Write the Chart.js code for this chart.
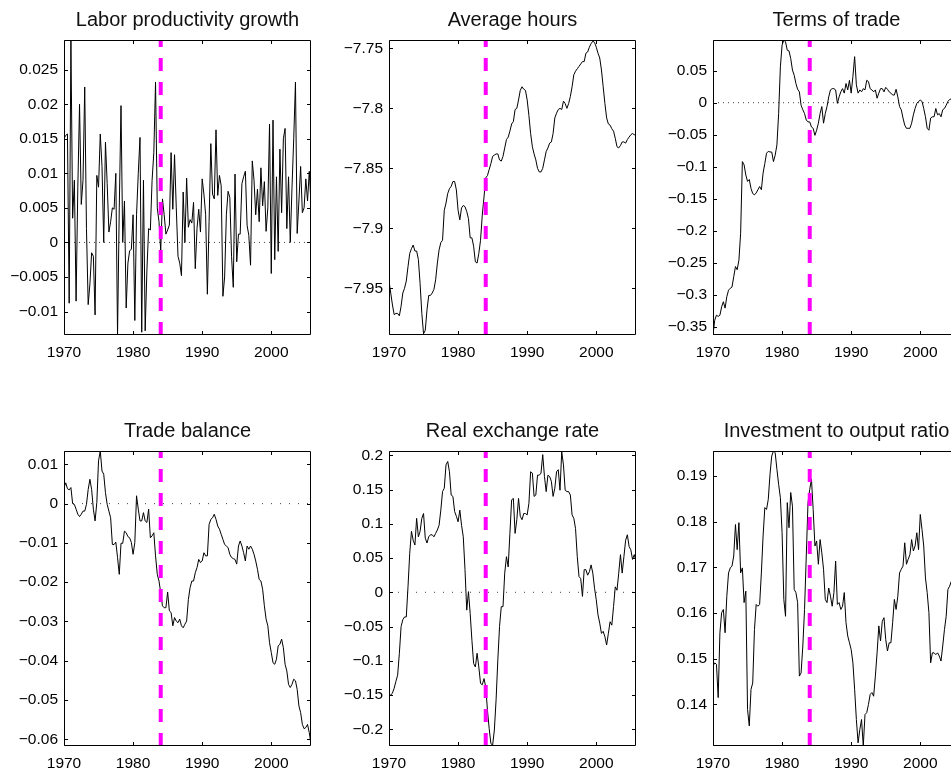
<!DOCTYPE html>
<html>
<head>
<meta charset="utf-8">
<script src="https://cdn.jsdelivr.net/npm/chart.js@4.4.1/dist/chart.umd.min.js"></script>
<style>
html,body{margin:0;padding:0;background:#fff;width:951px;height:771px;overflow:hidden;}
.pane{position:absolute;}
</style>
</head>
<body>
<canvas id="c1" class="pane" width="325" height="411" style="left:0px;top:0px"></canvas>
<canvas id="c2" class="pane" width="325" height="411" style="left:325px;top:0px"></canvas>
<canvas id="c3" class="pane" width="325" height="411" style="left:649px;top:0px"></canvas>
<canvas id="c4" class="pane" width="325" height="411" style="left:0px;top:411px"></canvas>
<canvas id="c5" class="pane" width="325" height="411" style="left:325px;top:411px"></canvas>
<canvas id="c6" class="pane" width="325" height="411" style="left:649px;top:411px"></canvas>
<script>
// ---------------- DATA ----------------
const startYear = 1970;           // first quarter 1970Q1
const nQuarters = 144;            // 1970Q1 .. 2005Q4
const breakYear = 1984;
const xTicks = [1970, 1980, 1990, 2000];
const xMin = 1970, xMax = 2005.75;

const titles = ["Labor productivity growth", "Average hours", "Terms of trade",
                "Trade balance", "Real exchange rate", "Investment to output ratio"];

const laborProductivity = [
 0.015,0.0155,0.0157,-0.0088,0.0293,0.0035,0.009,-0.0085,0.008,0.020,0.0055,0.009,
 0.0225,0.002,-0.009,-0.006,-0.0015,-0.002,-0.0105,0.0097,0.008,0.0157,0.011,0.0,
 0.0145,0.0085,0.0015,0.003,0.005,0.0048,0.010,-0.0134,0.005,0.0198,0.0,0.006,
 -0.0095,-0.003,-0.0012,-0.001,0.004,-0.0113,0.004,0.01,0.0152,-0.013,0.009,-0.0128,
 -0.004,0.002,0.0018,0.009,0.013,0.0232,0.005,0.003,-0.0012,0.0063,0.004,0.0012,
 0.0018,0.0025,0.013,0.0048,0.0127,0.005,-0.002,-0.003,-0.0048,0.0073,0.0,0.0093,
 0.0022,0.0033,0.0028,0.0058,-0.0038,0.002,0.0048,0.0015,0.0092,0.007,0.004,-0.0075,
 0.003,0.0143,0.007,0.0063,0.0163,0.0068,0.0097,0.0082,-0.0078,-0.005,0.004,0.0074,
 0.0065,-0.002,-0.0065,0.0099,-0.0028,0.0012,0.0012,0.0085,0.0095,0.0103,0.0025,0.001,
 -0.0033,0.0118,0.009,0.004,0.0077,0.003,0.0108,0.0053,0.0088,0.0016,0.005,0.0171,
 -0.0045,0.0177,-0.0025,0.0095,-0.0013,0.0135,0.0043,0.015,0.0165,0.002,0.0095,0.0,
 0.008,0.015,0.0232,0.0013,0.006,0.011,0.0043,0.005,0.0092,0.006,0.0103,0.0055];

const averageHours = [
 -7.944,-7.954,-7.964,-7.972,-7.971,-7.971,-7.973,-7.965,-7.954,-7.95,-7.944,-7.932,
 -7.921,-7.917,-7.914,-7.919,-7.919,-7.926,-7.946,-7.971,-7.988,-7.985,-7.968,-7.956,
 -7.956,-7.954,-7.951,-7.943,-7.929,-7.918,-7.912,-7.91,-7.885,-7.879,-7.871,-7.867,
 -7.865,-7.861,-7.861,-7.868,-7.885,-7.893,-7.883,-7.881,-7.882,-7.886,-7.892,-7.908,
 -7.908,-7.915,-7.928,-7.929,-7.921,-7.91,-7.889,-7.874,-7.858,-7.856,-7.851,-7.846,
 -7.84,-7.839,-7.838,-7.838,-7.843,-7.844,-7.84,-7.833,-7.826,-7.824,-7.819,-7.813,
 -7.811,-7.801,-7.8,-7.793,-7.785,-7.782,-7.784,-7.785,-7.793,-7.806,-7.821,-7.832,
 -7.838,-7.843,-7.85,-7.853,-7.853,-7.85,-7.843,-7.836,-7.833,-7.829,-7.828,-7.821,
 -7.808,-7.804,-7.801,-7.8,-7.801,-7.794,-7.796,-7.8,-7.796,-7.79,-7.782,-7.772,
 -7.769,-7.767,-7.765,-7.763,-7.761,-7.761,-7.754,-7.753,-7.749,-7.746,-7.744,-7.745,
 -7.749,-7.754,-7.758,-7.768,-7.782,-7.796,-7.808,-7.813,-7.814,-7.817,-7.819,-7.825,
 -7.832,-7.833,-7.831,-7.828,-7.828,-7.829,-7.826,-7.824,-7.822,-7.821,-7.822,-7.822];

const termsOfTrade = [
 -0.363,-0.34,-0.332,-0.334,-0.332,-0.319,-0.311,-0.321,-0.303,-0.293,-0.29,-0.288,
 -0.272,-0.256,-0.261,-0.246,-0.204,-0.092,-0.097,-0.113,-0.123,-0.12,-0.134,-0.142,
 -0.144,-0.141,-0.136,-0.131,-0.136,-0.11,-0.095,-0.079,-0.076,-0.077,-0.077,-0.092,
 -0.082,-0.066,-0.017,0.056,0.09,0.098,0.095,0.082,0.081,0.069,0.051,0.043,
 0.03,0.021,0.017,-0.004,-0.011,-0.017,-0.027,-0.03,-0.03,-0.038,-0.04,-0.051,
 -0.043,-0.032,-0.017,-0.006,-0.032,-0.017,-0.006,0.009,0.02,0.022,0.022,0.02,
 -0.001,0.009,0.017,0.022,0.015,0.03,0.02,0.035,0.015,0.041,0.072,0.028,
 0.015,0.02,0.017,0.022,0.02,0.035,0.033,0.022,0.02,0.017,0.02,0.007,
 0.015,0.022,0.022,0.017,0.024,0.021,0.017,0.015,0.012,0.012,0.021,0.009,
 -0.006,-0.011,-0.024,-0.035,-0.04,-0.04,-0.04,-0.032,-0.019,-0.009,-0.001,0.002,
 0.004,0.002,-0.009,-0.022,-0.04,-0.043,-0.024,-0.022,-0.022,-0.009,-0.019,-0.017,
 -0.022,-0.011,-0.009,-0.004,0.002,0.005,0.006,0.01,0.012,0.008,0.015,0.018];

const tradeBalance = [
 0.0041,0.0053,0.0038,0.0035,0.0041,0.0,-0.0002,-0.0014,-0.0027,-0.0033,-0.0027,-0.0019,
 -0.0019,-0.0002,0.0036,0.0062,0.0036,-0.0014,-0.0044,0.0003,0.0109,0.0134,0.0083,0.0075,
 0.0028,-0.0002,-0.0019,-0.0036,-0.0104,-0.0104,-0.0098,-0.0137,-0.018,-0.0101,-0.0101,-0.007,
 -0.0074,-0.0084,-0.0087,-0.0099,-0.0129,-0.0099,0.002,-0.0014,-0.0044,-0.0044,-0.0023,-0.0044,
 -0.0048,-0.0014,-0.0087,-0.0082,-0.0074,-0.0133,-0.018,-0.0197,-0.0227,-0.026,-0.0265,-0.0265,
 -0.0225,-0.0273,-0.0277,-0.0311,-0.029,-0.0299,-0.0303,-0.0294,-0.0311,-0.0316,-0.0307,-0.0299,
 -0.0244,-0.0214,-0.0197,-0.0197,-0.0176,-0.0163,-0.0142,-0.015,-0.0146,-0.0125,-0.0133,-0.0133,
 -0.0053,-0.004,-0.0036,-0.0027,-0.004,-0.0057,-0.0065,-0.0078,-0.0091,-0.0104,-0.0108,-0.0112,
 -0.0129,-0.0137,-0.014,-0.0142,-0.0154,-0.0108,-0.0095,-0.0108,-0.0125,-0.0146,-0.0108,-0.0116,
 -0.0108,-0.0116,-0.0129,-0.0146,-0.0167,-0.0193,-0.0197,-0.0218,-0.026,-0.0294,-0.0311,-0.0354,
 -0.0379,-0.0405,-0.0409,-0.0396,-0.0362,-0.0358,-0.0345,-0.0367,-0.0409,-0.0426,-0.046,-0.0468,
 -0.046,-0.0447,-0.0451,-0.0473,-0.0515,-0.0532,-0.0562,-0.0573,-0.057,-0.0562,-0.0583,-0.0613];

const realExchangeRate = [
 -0.152,-0.15,-0.147,-0.14,-0.13,-0.121,-0.089,-0.05,-0.04,-0.036,-0.036,0.008,
 0.057,0.089,0.076,0.069,0.108,0.081,0.089,0.108,0.115,0.079,0.072,0.081,
 0.084,0.084,0.081,0.086,0.091,0.098,0.12,0.147,0.152,0.186,0.191,0.176,
 0.142,0.14,0.118,0.111,0.103,0.12,0.098,0.081,0.033,-0.026,0.001,-0.031,
 -0.07,-0.104,-0.109,-0.089,-0.109,-0.133,-0.135,-0.126,-0.138,-0.172,-0.199,-0.221,
 -0.223,-0.201,-0.157,-0.099,-0.05,-0.021,-0.021,0.028,0.052,0.037,0.086,0.135,
 0.137,0.086,0.106,0.137,0.111,0.106,0.115,0.115,0.113,0.13,0.176,0.174,
 0.14,0.142,0.171,0.171,0.174,0.201,0.169,0.147,0.171,0.169,0.162,0.14,
 0.152,0.176,0.179,0.149,0.205,0.186,0.149,0.147,0.147,0.142,0.113,0.108,
 0.093,0.052,0.023,0.02,-0.006,0.033,0.033,0.025,0.03,0.04,0.028,0.006,
 -0.011,-0.033,-0.045,-0.06,-0.057,-0.065,-0.077,-0.06,-0.043,-0.048,-0.021,0.008,
 0.003,0.028,0.055,0.028,0.052,0.076,0.084,0.067,0.062,0.048,0.055,0.045];

const investmentRatio = [
 0.1484,0.1491,0.1488,0.1415,0.1557,0.1601,0.1608,0.1557,0.1637,0.1688,0.1699,0.1703,
 0.1725,0.1794,0.1739,0.1798,0.1688,0.1699,0.1623,0.1648,0.1389,0.1353,0.1433,0.1447,
 0.1564,0.1619,0.1615,0.1619,0.1688,0.1769,0.1831,0.1827,0.1849,0.1904,0.1944,0.1955,
 0.1951,0.1915,0.1882,0.1853,0.1776,0.163,0.1593,0.1842,0.1787,0.1864,0.1834,0.1652,
 0.1645,0.1623,0.1462,0.1469,0.1528,0.1608,0.1725,0.1842,0.1871,0.1893,0.1827,0.1747,
 0.1758,0.1707,0.1761,0.1732,0.1696,0.163,0.1623,0.1655,0.1637,0.1615,0.1645,0.1714,
 0.1619,0.1623,0.1608,0.1615,0.1645,0.1579,0.155,0.1535,0.152,0.1491,0.1433,0.1367,
 0.1316,0.1345,0.1367,0.1309,0.1378,0.1382,0.14,0.1422,0.1426,0.1418,0.1462,0.1513,
 0.1572,0.1539,0.1582,0.159,0.1542,0.1517,0.1535,0.1535,0.1579,0.163,0.1608,0.1637,
 0.1688,0.1696,0.1703,0.1754,0.1707,0.1718,0.1728,0.1761,0.1736,0.1747,0.1776,0.1739,
 0.1816,0.1783,0.1747,0.1677,0.1645,0.1601,0.1491,0.1513,0.1513,0.1509,0.1513,0.1506,
 0.1495,0.1528,0.1564,0.1593,0.1652,0.1659,0.167,0.168,0.166,0.169,0.17,0.168];

const yTicks1 = [-0.01,-0.005,0,0.005,0.01,0.015,0.02,0.025];
const yTicks2 = [-7.95,-7.9,-7.85,-7.8,-7.75];
const yTicks3 = [-0.35,-0.3,-0.25,-0.2,-0.15,-0.1,-0.05,0,0.05];
const yTicks4 = [-0.06,-0.05,-0.04,-0.03,-0.02,-0.01,0,0.01];
const yTicks5 = [-0.2,-0.15,-0.1,-0.05,0,0.05,0.1,0.15,0.2];
const yTicks6 = [0.14,0.15,0.16,0.17,0.18,0.19];

const yRange1 = [-0.0134, 0.0293];
const yRange2 = [-7.989, -7.743];
const yRange3 = [-0.363, 0.098];
const yRange4 = [-0.0617, 0.0134];
const yRange5 = [-0.2244, 0.2063];
const yRange6 = [0.1309, 0.1955];

// ---------------- RENDERING ----------------
const FONT = "'Liberation Sans', Arial, Helvetica, sans-serif";
const quarters = [];
for (let i = 0; i < nQuarters; i++) quarters.push(startYear + i / 4);

function fmt(v) {
  const s = String(Number(v.toFixed(5)));
  return v < 0 ? '\u2212' + s.slice(1) : s;
}

const framePlugin = {
  id: 'frame',
  afterDraw(chart) {
    const {ctx, chartArea: a, scales} = chart;
    ctx.save();
    ctx.strokeStyle = '#000';
    ctx.lineWidth = 1;
    const L = Math.round(a.left) + 0.5, R = Math.round(a.right) - 0.5;
    const T = Math.round(a.top) + 0.5, B = Math.round(a.bottom) - 0.5;
    ctx.beginPath();
    ctx.rect(L, T, R - L, B - T);
    const tl = 3.5;
    scales.x.ticks.forEach(t => {
      const px = Math.round(scales.x.getPixelForValue(t.value)) + 0.5;
      ctx.moveTo(px, B); ctx.lineTo(px, B - tl);
      ctx.moveTo(px, T); ctx.lineTo(px, T + tl);
    });
    scales.y.ticks.forEach(t => {
      const py = Math.round(scales.y.getPixelForValue(t.value)) + 0.5;
      ctx.moveTo(L, py); ctx.lineTo(L + tl, py);
      ctx.moveTo(R, py); ctx.lineTo(R - tl, py);
    });
    ctx.stroke();
    ctx.restore();
  }
};

function makePanel(id, title, values, yRange, yTicks, zeroLine, zeroDash) {
  const datasets = [
    {data: [{x: breakYear, y: yRange[0]}, {x: breakYear, y: yRange[1]}],
     borderColor: '#ff00ff', borderWidth: 4, borderDash: [13, 11], borderCapStyle: 'butt',
     pointRadius: 0, order: 0},
    {data: values.map((v, i) => ({x: quarters[i], y: v})),
     borderColor: '#000', borderWidth: 1, pointRadius: 0, tension: 0, order: 1}
  ];
  if (zeroLine) {
    datasets.push({data: [{x: xMin, y: 0}, {x: xMax, y: 0}],
      borderColor: '#444', borderWidth: 1, borderDash: zeroDash, pointRadius: 0, order: 2});
  }
  new Chart(document.getElementById(id), {
    type: 'line',
    data: {datasets},
    options: {
      responsive: false, animation: false, devicePixelRatio: 1,
      layout: {padding: {left: 0, right: 14, top: 0, bottom: 0}},
      plugins: {
        legend: {display: false}, tooltip: {enabled: false},
        title: {display: true, text: title, fullSize: false, color: '#111',
                font: {family: FONT, size: 20, weight: 'normal', lineHeight: 1.2},
                padding: {top: 8.5, bottom: 7.5}}
      },
      scales: {
        x: {type: 'linear', min: xMin, max: xMax,
            afterBuildTicks: s => { s.ticks = xTicks.map(v => ({value: v})); },
            afterFit: s => { s.height = 76; },
            grid: {display: false, drawTicks: false}, border: {display: false},
            ticks: {font: {family: FONT, size: 15.5}, color: '#000', padding: 8.5,
                    maxRotation: 0, autoSkip: false, callback: v => String(v)}},
        y: {type: 'linear', min: yRange[0], max: yRange[1],
            afterBuildTicks: s => { s.ticks = yTicks.map(v => ({value: v})); },
            afterFit: s => { s.width = 64; },
            grid: {display: false, drawTicks: false}, border: {display: false},
            ticks: {font: {family: FONT, size: 15.5}, color: '#000', padding: 6,
                    autoSkip: false, callback: v => fmt(v)}}
      }
    },
    plugins: [framePlugin]
  });
}

makePanel('c1', titles[0], laborProductivity, yRange1, yTicks1, true, [1, 4]);
makePanel('c2', titles[1], averageHours, yRange2, yTicks2, false, null);
makePanel('c3', titles[2], termsOfTrade, yRange3, yTicks3, true, [1, 4]);
makePanel('c4', titles[3], tradeBalance, yRange4, yTicks4, true, [1, 8]);
makePanel('c5', titles[4], realExchangeRate, yRange5, yTicks5, true, [1, 8]);
makePanel('c6', titles[5], investmentRatio, yRange6, yTicks6, false, null);
</script>
</body>
</html>
